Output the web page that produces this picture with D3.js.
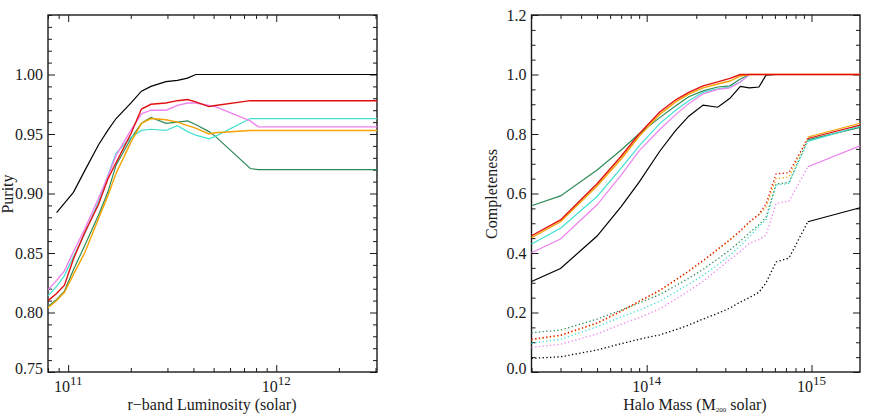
<!DOCTYPE html>
<html lang="en">
<meta charset="utf-8">
<head>
<script src="https://d3js.org/d3.v7.min.js"></script>
<style>
  body { margin: 0; background: #fff; }
  svg text { font-family: "Liberation Serif", "Times New Roman", "DejaVu Serif", serif; fill: #1a1a1a; }
</style>
</head>
<body>
<script>
// ---- left panel: purity vs r-band luminosity (luminosity in units of 1e11) ----
const lum = [0.80, 0.88, 0.96, 1.06, 1.2, 1.4, 1.55, 1.7, 2.0, 2.25, 2.5, 2.95, 3.35, 3.75, 4.1, 4.75, 5.1, 7.5, 8.2, 30.5];
const purityBlack  = [null, 0.884, 0.892, 0.901, 0.919, 0.941, 0.953, 0.963, 0.976, 0.986, 0.990, 0.994, 0.995, 0.997, 1.0, 1.0, 1.0, 1.0, 1.0, 1.0];
const purityGreen  = [0.805, 0.811, 0.818, 0.836, 0.856, 0.882, 0.901, 0.924, 0.946, 0.959, 0.964, 0.959, 0.960, 0.961, 0.958, 0.952, 0.948, 0.921, 0.920, 0.920];
const purityCyan   = [0.814, 0.822, 0.831, 0.847, 0.866, 0.893, 0.915, 0.934, 0.947, 0.953, 0.954, 0.953, 0.957, 0.952, 0.949, 0.946, 0.948, 0.963, 0.963, 0.963];
const purityViolet = [0.819, 0.827, 0.835, 0.851, 0.870, 0.896, 0.914, 0.932, 0.953, 0.967, 0.970, 0.970, 0.974, 0.976, 0.976, 0.974, 0.973, 0.961, 0.956, 0.956];
const purityOrange = [0.804, 0.810, 0.817, 0.832, 0.850, 0.879, 0.898, 0.917, 0.943, 0.959, 0.963, 0.962, 0.960, 0.957, 0.955, 0.950, 0.951, 0.953, 0.953, 0.953];
const purityRed    = [0.810, 0.816, 0.823, 0.845, 0.867, 0.891, 0.912, 0.926, 0.950, 0.971, 0.975, 0.976, 0.978, 0.979, 0.977, 0.973, 0.974, 0.978, 0.978, 0.978];

// ---- right panel: completeness vs halo mass (mass in units of 1e13) ----
const mass = [2, 3, 5, 7, 9, 12, 15, 18, 22, 27, 32, 37, 42, 48, 53, 61, 73, 95, 197];
// solid curves
const compBlack  = [0.304, 0.348, 0.457, 0.556, 0.638, 0.742, 0.812, 0.860, 0.897, 0.890, 0.920, 0.960, 0.955, 0.958, 0.998, 1.0, 1.0, 1.0, 1.0];
const compGreen  = [0.559, 0.592, 0.679, 0.746, 0.801, 0.855, 0.895, 0.925, 0.945, 0.958, 0.962, 0.985, 1.0, 1.0, 1.0, 1.0, 1.0, 1.0, 1.0];
const compCyan   = [0.430, 0.483, 0.590, 0.685, 0.760, 0.835, 0.880, 0.912, 0.940, 0.952, 0.958, 0.975, 1.0, 1.0, 1.0, 1.0, 1.0, 1.0, 1.0];
const compViolet = [0.401, 0.447, 0.562, 0.662, 0.743, 0.815, 0.865, 0.902, 0.935, 0.950, 0.955, 0.975, 1.0, 1.0, 1.0, 1.0, 1.0, 1.0, 1.0];
const compOrange = [0.452, 0.505, 0.625, 0.716, 0.792, 0.866, 0.908, 0.934, 0.955, 0.968, 0.978, 0.995, 1.0, 1.0, 1.0, 1.0, 1.0, 1.0, 1.0];
const compRed    = [0.458, 0.511, 0.633, 0.725, 0.800, 0.874, 0.915, 0.940, 0.962, 0.975, 0.987, 1.0, 1.0, 1.0, 1.0, 1.0, 1.0, 1.0, 1.0];
// dotted curves (last segment drawn solid, as in the original)
const dotBlack  = [0.046, 0.051, 0.074, 0.095, 0.110, 0.125, 0.142, 0.158, 0.178, 0.197, 0.215, 0.235, 0.250, 0.268, 0.300, 0.370, 0.383, 0.505, 0.552];
const dotGreen  = [0.132, 0.141, 0.178, 0.208, 0.232, 0.260, 0.290, 0.315, 0.345, 0.380, 0.410, 0.440, 0.468, 0.495, 0.520, 0.632, 0.637, 0.780, 0.822];
const dotCyan   = [0.096, 0.110, 0.152, 0.185, 0.208, 0.238, 0.270, 0.295, 0.325, 0.360, 0.392, 0.425, 0.455, 0.490, 0.510, 0.628, 0.634, 0.775, 0.826];
const dotViolet = [0.083, 0.093, 0.128, 0.160, 0.183, 0.212, 0.245, 0.272, 0.305, 0.345, 0.378, 0.405, 0.432, 0.445, 0.460, 0.567, 0.574, 0.690, 0.760];
const dotOrange = [0.108, 0.122, 0.163, 0.203, 0.236, 0.273, 0.308, 0.338, 0.373, 0.411, 0.443, 0.473, 0.503, 0.528, 0.555, 0.650, 0.655, 0.790, 0.836];
const dotRed    = [0.110, 0.124, 0.165, 0.205, 0.238, 0.275, 0.310, 0.340, 0.375, 0.413, 0.445, 0.475, 0.505, 0.530, 0.565, 0.666, 0.670, 0.785, 0.830];

const purityTicks = [0.75, 0.80, 0.85, 0.90, 0.95, 1.00];
const compTicks = [0.0, 0.2, 0.4, 0.6, 0.8, 1.0, 1.2];

const colors = {black: "#000000", green: "#2e8b57", cyan: "#40e0d0", violet: "#ee82ee", orange: "#f5a300", red: "#e01010"};

const width = 872, height = 420;
const serif = "'Liberation Serif', 'Times New Roman', 'DejaVu Serif', serif";
const svg = d3.select("body").append("svg")
    .attr("width", width)
    .attr("height", height)
    .attr("font-family", serif);

// scales
const xL = d3.scaleLog().domain([0.8e11, 3.05e12]).range([48, 377]);
const yL = d3.scaleLinear().domain([0.75, 1.05]).range([372, 15]);
const xR = d3.scaleLog().domain([2e13, 1.97e15]).range([531.5, 860]);
const yR = d3.scaleLinear().domain([0, 1.2]).range([372, 15]);

// log minor ticks inside a domain
function logTicks(scale) {
  const [a, b] = scale.domain();
  const out = [];
  for (let k = Math.floor(Math.log10(a)); k <= Math.ceil(Math.log10(b)); k++)
    for (let d = 1; d < 10; d++) {
      const v = d * Math.pow(10, k);
      if (v >= a * 0.999 && v <= b * 1.001) out.push(v);
    }
  return out;
}

function drawFrame(x, y, xMajor, yMajor, yMinor) {
  const [x0, x1] = x.range(), [y0, y1] = y.range();
  const g = svg.append("g");
  const xMinor = logTicks(x).filter(v => !xMajor.includes(v));
  const add = (axis, tr) => g.append("g").attr("transform", tr).call(axis)
      .call(s => s.select(".domain").remove())
      .call(s => s.selectAll("text").remove())
      .call(s => s.selectAll("line").attr("stroke", "#1a1a1a").attr("stroke-width", 1));

  add(d3.axisBottom(x).tickValues(xMajor).tickSize(-7), `translate(0,${y0})`);
  add(d3.axisBottom(x).tickValues(xMinor).tickSize(-4), `translate(0,${y0})`);
  add(d3.axisTop(x).tickValues(xMajor).tickSize(-7), `translate(0,${y1})`);
  add(d3.axisTop(x).tickValues(xMinor).tickSize(-4), `translate(0,${y1})`);
  add(d3.axisLeft(y).tickValues(yMajor).tickSize(-7), `translate(${x0},0)`);
  add(d3.axisLeft(y).tickValues(yMinor).tickSize(-4), `translate(${x0},0)`);
  add(d3.axisRight(y).tickValues(yMajor).tickSize(-7), `translate(${x1},0)`);
  add(d3.axisRight(y).tickValues(yMinor).tickSize(-4), `translate(${x1},0)`);

  g.append("rect")
    .attr("x", x0).attr("y", y1)
    .attr("width", x1 - x0).attr("height", y0 - y1)
    .attr("fill", "none").attr("stroke", "#1a1a1a").attr("stroke-width", 1.4);

  // x labels as 10^n
  const xl = g.selectAll(".xl").data(xMajor).join("text")
    .attr("x", d => x(d)).attr("y", 392)
    .attr("text-anchor", "middle").attr("font-size", 16);
  xl.append("tspan").text("10");
  xl.append("tspan").attr("dy", -7).attr("font-size", 13).text(d => Math.round(Math.log10(d)));
  return g;
}

function yLabels(g, y, x0, ticks, fmt) {
  g.selectAll(".yl").data(ticks).join("text")
    .attr("x", x0 - 5)
    .attr("y", (d, i) => y(d) + (i === 0 ? -4 : 0))
    .attr("dy", "0.35em")
    .attr("text-anchor", "end")
    .attr("font-size", 16)
    .text(fmt);
}

function drawLine(x, y, xs, ys, color, opts = {}) {
  const pts = xs.map((v, i) => [v, ys[i]]);
  const line = d3.line()
    .defined(d => d[1] != null)
    .x(d => x(d[0])).y(d => y(d[1]));
  svg.append("path")
    .datum(pts)
    .attr("d", line)
    .attr("fill", "none")
    .attr("stroke", color)
    .attr("stroke-width", opts.w || 1.2)
    .attr("stroke-dasharray", opts.dash || null);
}

// ---- left panel ----
const yMinorL = d3.range(0.75, 1.0501, 0.01).map(v => +v.toFixed(2)).filter(v => !purityTicks.includes(v));
const gL = drawFrame(xL, yL, [1e11, 1e12], purityTicks, yMinorL);
yLabels(gL, yL, 48, purityTicks, d3.format(".2f"));

const lumVals = lum.map(v => v * 1e11);
drawLine(xL, yL, lumVals, purityBlack, colors.black);
drawLine(xL, yL, lumVals, purityGreen, colors.green);
drawLine(xL, yL, lumVals, purityCyan, colors.cyan);
drawLine(xL, yL, lumVals, purityViolet, colors.violet, {w: 1.4});
drawLine(xL, yL, lumVals, purityOrange, colors.orange, {w: 1.4});
drawLine(xL, yL, lumVals, purityRed, colors.red, {w: 1.4});

svg.append("text")
  .attr("x", 212).attr("y", 410)
  .attr("text-anchor", "middle").attr("font-size", 16)
  .text("r\u2212band Luminosity (solar)");
svg.append("text")
  .attr("transform", "translate(13,194) rotate(-90)")
  .attr("text-anchor", "middle").attr("font-size", 16)
  .text("Purity");

// ---- right panel ----
const yMinorR = d3.range(0, 1.2001, 0.05).map(v => +v.toFixed(2)).filter(v => !compTicks.includes(v));
const gR = drawFrame(xR, yR, [1e14, 1e15], compTicks, yMinorR);
yLabels(gR, yR, 531.5, compTicks, d3.format(".1f"));

const massVals = mass.map(v => v * 1e13);
const n = mass.length;
const dotted = [[dotBlack, colors.black], [dotGreen, colors.green], [dotCyan, colors.cyan],
                [dotViolet, colors.violet], [dotOrange, colors.orange], [dotRed, colors.red]];
dotted.forEach(([vals, c]) => {
  drawLine(xR, yR, massVals.slice(0, n - 1), vals.slice(0, n - 1), c, {w: 1.3, dash: "1.3,2.4"});
  drawLine(xR, yR, massVals.slice(n - 2), vals.slice(n - 2), c);
});
drawLine(xR, yR, massVals, compBlack, colors.black);
drawLine(xR, yR, massVals, compGreen, colors.green);
drawLine(xR, yR, massVals, compCyan, colors.cyan);
drawLine(xR, yR, massVals, compViolet, colors.violet);
drawLine(xR, yR, massVals, compOrange, colors.orange, {w: 1.4});
drawLine(xR, yR, massVals, compRed, colors.red, {w: 1.4});

const xt = svg.append("text")
  .attr("x", 695).attr("y", 410)
  .attr("text-anchor", "middle").attr("font-size", 16);
xt.append("tspan").text("Halo Mass (M");
xt.append("tspan").attr("font-size", 7).attr("dy", 2).text("200");
xt.append("tspan").attr("dy", -2).text(" solar)");
svg.append("text")
  .attr("transform", "translate(497,194) rotate(-90)")
  .attr("text-anchor", "middle").attr("font-size", 16)
  .text("Completeness");
</script>
</body>
</html>
